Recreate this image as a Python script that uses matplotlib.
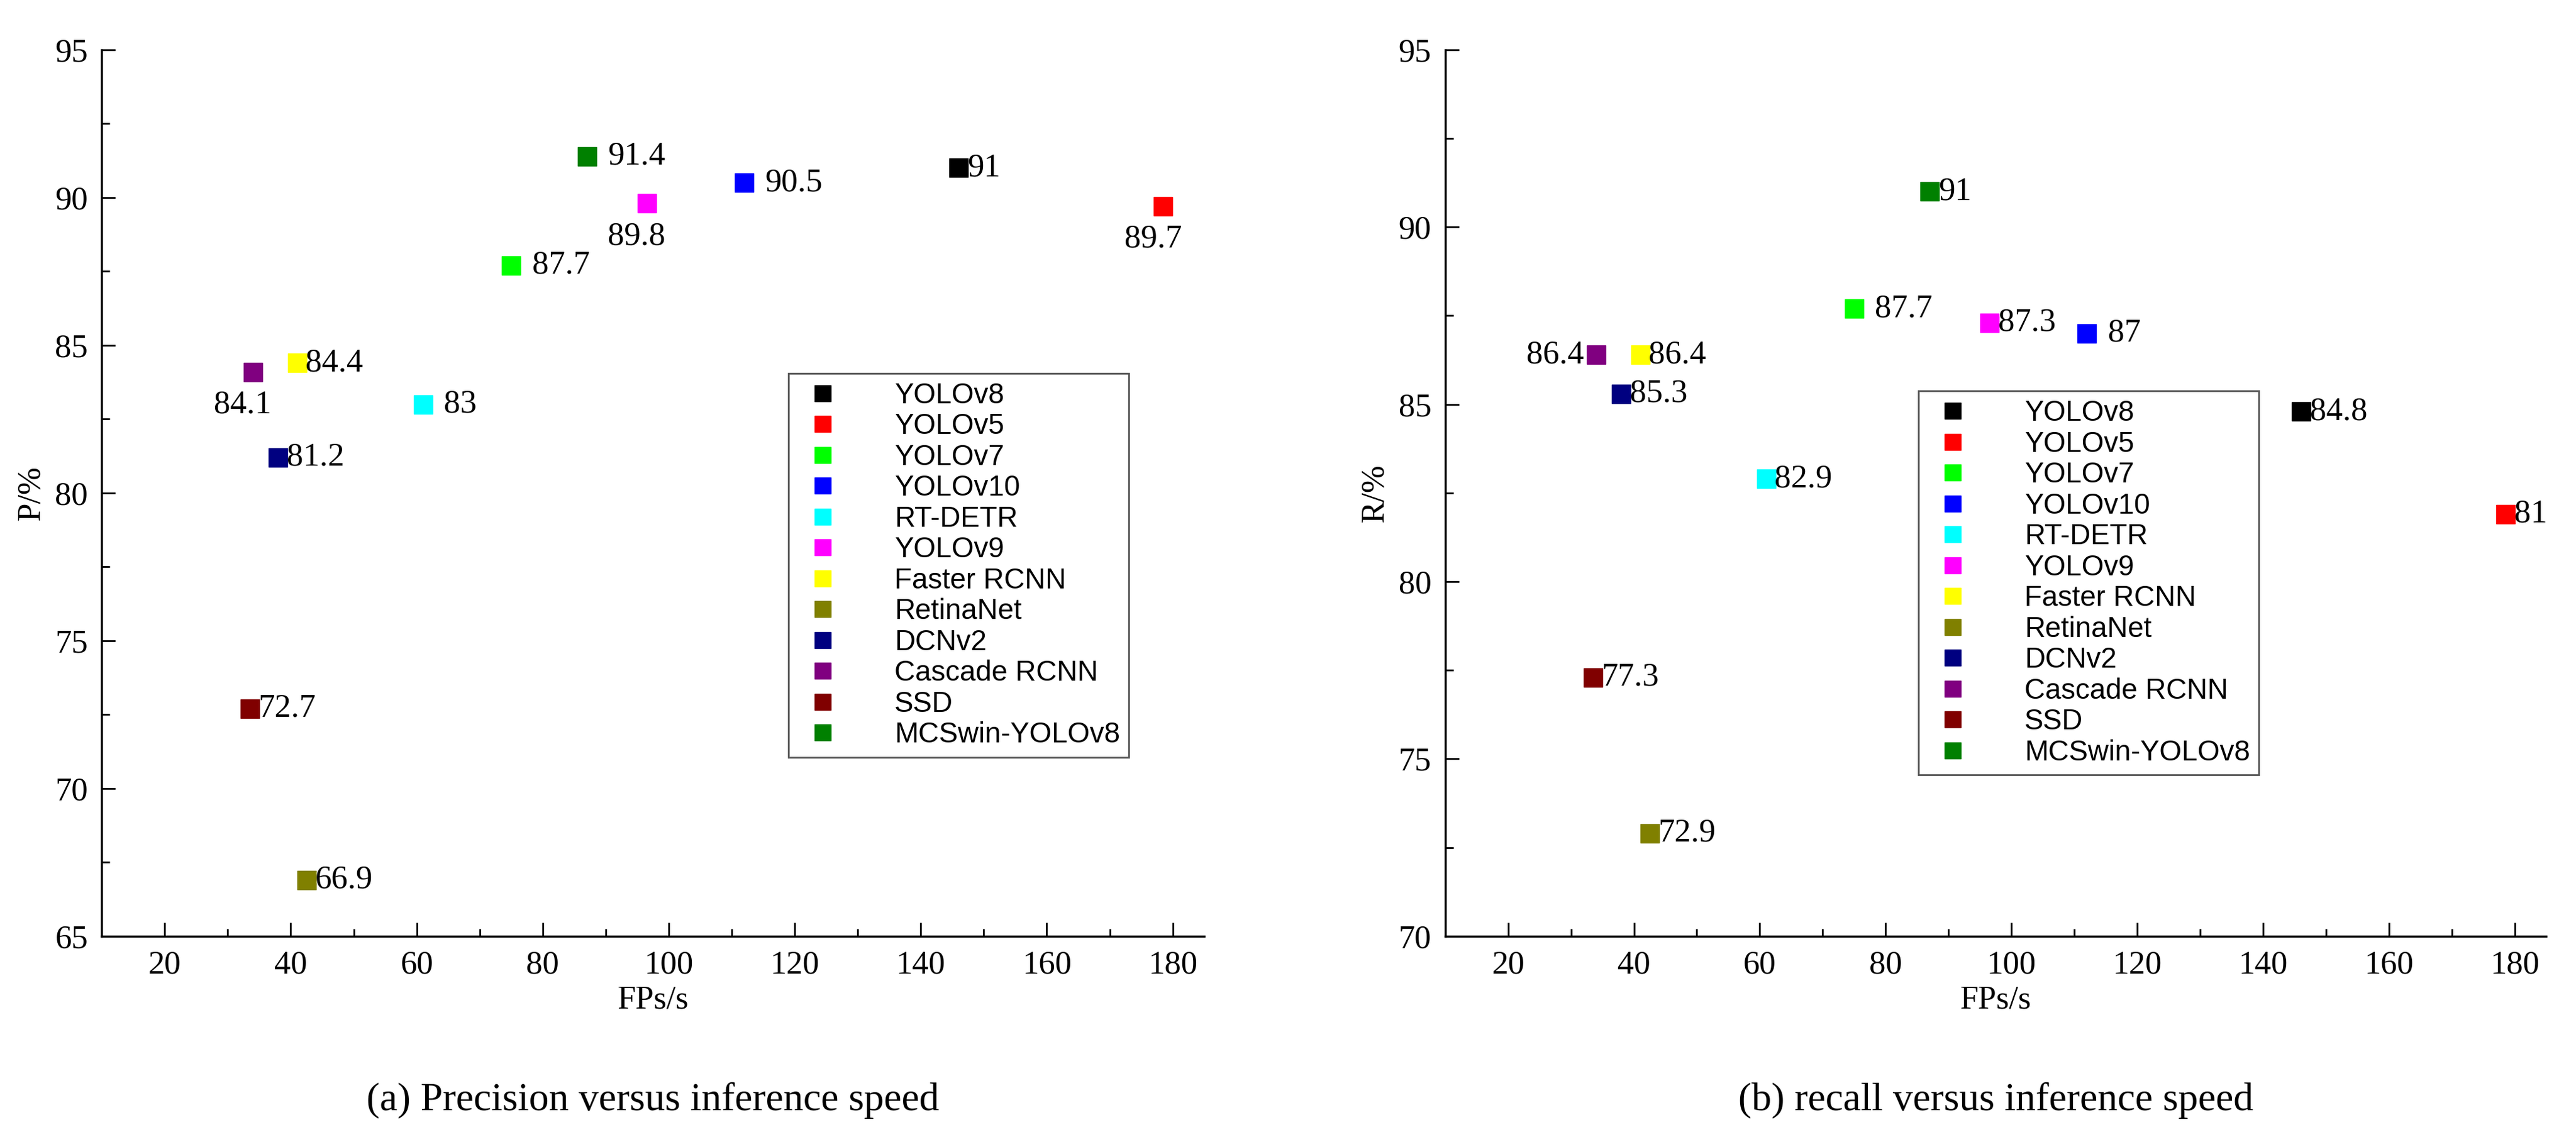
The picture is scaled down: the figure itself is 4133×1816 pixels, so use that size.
import matplotlib
matplotlib.use("Agg")
import matplotlib.pyplot as plt
from matplotlib.ticker import MultipleLocator

models = ["YOLOv8", "YOLOv5", "YOLOv7", "YOLOv10", "RT-DETR", "YOLOv9",
          "Faster RCNN", "RetinaNet", "DCNv2", "Cascade RCNN", "SSD", "MCSwin-YOLOv8"]
colors = ["#000000", "#ff0000", "#00ff00", "#0000ff", "#00ffff", "#ff00ff",
          "#ffff00", "#808000", "#000080", "#800080", "#800000", "#008000"]
fps = [146, 178.5, 75, 112, 61, 96.5, 41, 42.5, 38, 34, 33.5, 87]
precision = [91, 89.7, 87.7, 90.5, 83, 89.8, 84.4, 66.9, 81.2, 84.1, 72.7, 91.4]
recall = [84.8, 81.9, 87.7, 87, 82.9, 87.3, 86.4, 72.9, 85.3, 86.4, 77.3, 91]
p_labels = ["91", "89.7", "87.7", "90.5", "83", "89.8", "84.4", "66.9", "81.2", "84.1", "72.7", "91.4"]
r_labels = ["84.8", "81", "87.7", "87", "82.9", "87.3", "86.4", "72.9", "85.3", "86.4", "77.3", "91"]

# label placement (offset in points, alignment)
R, B, L = ((10, 0), "left", "center"), ((-12, -38), "center", "center"), ((-14, 0), "right", "center")
RW = ((24, 0), "left", "center")
p_pos = [R, B, RW, RW, RW, B, R, R, R, B, R, RW]
r_pos = [R, R, RW, RW, R, R, R, R, R, L, R, R]

serif = "Liberation Serif"
sans = "Liberation Sans"
FS = 38

fig = plt.figure(figsize=(41.33, 18.16), dpi=100)
ax1 = fig.add_axes([0.0395, 0.173, 0.428, 0.783])
ax2 = fig.add_axes([0.561, 0.173, 0.4275, 0.783])


def draw(ax, yvals, labels, pos, ylim, ylabel, leg_anchor, caption):
    for i in range(len(models)):
        ax.plot(fps[i], yvals[i], "s", color=colors[i], ms=22, label=models[i], linestyle="none")
        off, ha, va = pos[i]
        ax.annotate(labels[i], (fps[i], yvals[i]), xytext=off, textcoords="offset points",
                    ha=ha, va=va, fontsize=FS, family=serif)
    ax.set_xlim(10, 185)
    ax.set_ylim(*ylim)
    ax.xaxis.set_major_locator(MultipleLocator(20))
    ax.xaxis.set_minor_locator(MultipleLocator(10))
    ax.yaxis.set_major_locator(MultipleLocator(5))
    ax.yaxis.set_minor_locator(MultipleLocator(2.5))
    ax.set_xticks(range(20, 181, 20))
    for s in ["top", "right"]:
        ax.spines[s].set_visible(False)
    for s in ["left", "bottom"]:
        ax.spines[s].set_linewidth(2.5)
    ax.tick_params(which="major", direction="in", length=16, width=2, labelsize=FS, pad=16)
    ax.tick_params(which="minor", direction="in", length=9, width=2)
    for t in ax.get_xticklabels() + ax.get_yticklabels():
        t.set_family(serif)
    ax.set_xlabel("FPs/s", fontsize=FS, family=serif, labelpad=6)
    ax.set_ylabel(ylabel, fontsize=FS, family=serif, labelpad=10)
    leg = ax.legend(loc="upper left", bbox_to_anchor=leg_anchor, prop={"family": sans, "size": 33},
                    fancybox=False, edgecolor="#555555", handletextpad=1.6, borderpad=0.3,
                    labelspacing=0.12, markerscale=0.85, framealpha=1, handlelength=1.8,
                    borderaxespad=0)
    leg.get_frame().set_linewidth(2)
    ax.text(0.5, -0.165, caption, transform=ax.transAxes, ha="center", va="top",
            fontsize=46, family=serif)


draw(ax1, precision, p_labels, p_pos, (65, 95), "P/%", (0.623, 0.635),
     "(a) Precision versus inference speed")
draw(ax2, recall, r_labels, r_pos, (70, 95), "R/%", (0.43, 0.615),
     "(b) recall versus inference speed")

fig.savefig("out.png", dpi=100)
